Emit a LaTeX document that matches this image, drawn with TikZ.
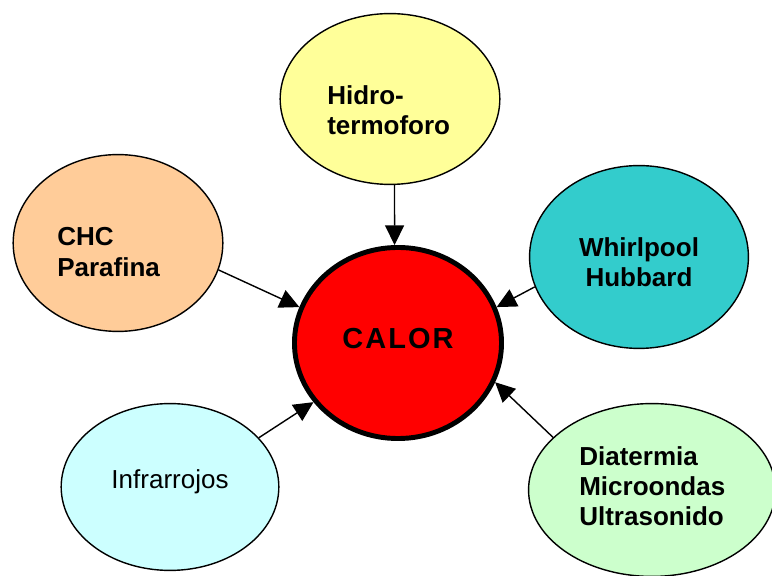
\documentclass[tikz,border=0pt]{standalone}
\usepackage{fontspec}
\setmainfont{Liberation Sans}
\newfontfamily\calorfont[LetterSpace=7]{Liberation Sans}
\usetikzlibrary{arrows.meta, shapes.geometric}

\definecolor{hidroyellow}{HTML}{FFFF99}
\definecolor{chcpeach}{HTML}{FFCC99}
\definecolor{whirlteal}{HTML}{33CCCC}
\definecolor{infracyan}{HTML}{CCFFFF}
\definecolor{diatgreen}{HTML}{CCFFCC}
\definecolor{calorred}{HTML}{FF0000}

\begin{document}
\begin{tikzpicture}[
  x=0.025cm, y=-0.025cm,
  blob/.style={
    draw,
    ellipse,
    inner sep=0pt,
    line width=1pt
  },
  txt/.style={
    font=\bfseries\fontsize{18.5}{21.5}\selectfont,
    align=left,
    inner sep=0pt
  },
  feed/.style={
    line width=1pt,
    -{Triangle[length=14pt, width=13.5pt]}
  }
]
\useasboundingbox (0,0) rectangle (772,576);

% Centre
\node[blob, line width=3.5pt, fill=calorred, minimum width=5.175cm, minimum height=4.775cm] (calor) at (398,343) {};
\node[inner sep=0pt, font=\calorfont\bfseries\fontsize{20.6}{24}\selectfont] (calortxt) at (398,339) {CALOR};

% Surrounding sources
\node[blob, fill=hidroyellow, minimum width=5.49cm, minimum height=4.27cm] (hidro) at (390,99) {};
\node[txt, anchor=west] (hidrotxt) at (327,110) {Hidro-\\termoforo};

\node[blob, fill=chcpeach, minimum width=5.24cm, minimum height=4.42cm] (chc) at (118,243) {};
\node[txt, anchor=west] (chctxt) at (57,252) {CHC\\Parafina};

\node[blob, fill=whirlteal, minimum width=5.47cm, minimum height=4.57cm] (whirl) at (639,257) {};
\node[txt, align=center] (whirltxt) at (639,262) {Whirlpool\\Hubbard};

\node[blob, fill=infracyan, minimum width=5.44cm, minimum height=4.17cm] (infra) at (170,487) {};
\node[txt, font=\fontsize{18.5}{21.5}\selectfont] (infratxt) at (170,482) {Infrarrojos};

\node[blob, fill=diatgreen, minimum width=6.17cm, minimum height=4.32cm] (diat) at (652,490) {};
\node[txt, anchor=west] (diattxt) at (579,486) {Diatermia\\Microondas\\Ultrasonido};

% Arrows into the centre
\draw[feed] (hidro.-87) -- (calor.92);
\draw[feed] (chc.-15) -- (calor.160);
\draw[feed] (whirl.196) -- (calor.20);
\draw[feed] (infra.29) -- (calor.215);
\draw[feed] (diat.152) -- (calor.-22);

\end{tikzpicture}
\end{document}
